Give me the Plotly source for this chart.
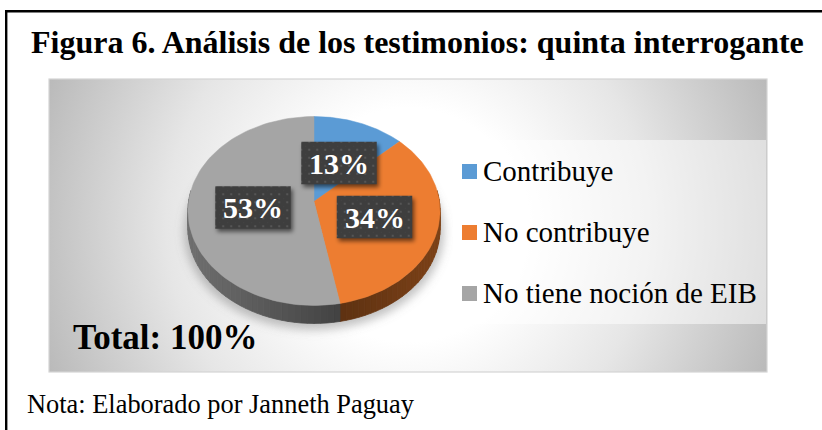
import base64
import numpy as np
import plotly.graph_objects as go

W, H = 822, 430
categories = ["Contribuye", "No contribuye", "No tiene noción de EIB"]
values = [13, 34, 53]
colors = ["#5b9bd5", "#ed7d31", "#a5a5a5"]
title_text = "Figura 6. Análisis de los testimonios: quinta interrogante"
note_text = "Nota: Elaborado por Janneth Paguay"
label_centers = [(339, 163), (374.5, 217), (253, 207.5)]
legend_rows = [171.5, 232.5, 293.5]

# tilted-disc projection of a unit circle
APEX_X, APEX_Y = 314, 201.5
PERSP, KY, KX = 0.1005, 93.5, 125.4
DEPTH = 18


def project(theta):
    """theta: clockwise from 12 o'clock, radians."""
    x, y = np.sin(theta), np.cos(theta)
    d = 1 + PERSP * y
    return APEX_X + KX * x / d, APEX_Y - KY * y / d


def svg_uri(body, w, h):
    svg = f'<svg xmlns="http://www.w3.org/2000/svg" width="{w}" height="{h}" viewBox="0 0 {w} {h}">{body}</svg>'
    return "data:image/svg+xml;base64," + base64.b64encode(svg.encode()).decode()


background = (
    '<defs><radialGradient id="g" gradientUnits="userSpaceOnUse" cx="408" cy="225" r="390">'
    '<stop offset="0.3" stop-color="#ffffff"/><stop offset="0.62" stop-color="#e6e6e6"/>'
    '<stop offset="1" stop-color="#b9b9b9"/></radialGradient>'
    '<filter id="b" x="-20%" y="-20%" width="140%" height="140%"><feGaussianBlur stdDeviation="5"/></filter></defs>'
    '<rect x="49" y="79" width="718" height="293" fill="url(#g)" stroke="#d4d4d4" stroke-width="1.2"/>'
    '<ellipse cx="314" cy="232" rx="130" ry="98" fill="#777777" fill-opacity="0.45" filter="url(#b)"/>'
    '<rect x="453" y="140" width="313" height="184" fill="#ffffff" fill-opacity="0.5"/>'
)


def label_box(w, h):
    pad = 12
    body = (
        '<defs><filter id="s" x="-30%" y="-30%" width="160%" height="160%"><feGaussianBlur stdDeviation="2.2"/></filter>'
        '<pattern id="p" width="8" height="8" patternUnits="userSpaceOnUse">'
        '<rect width="8" height="8" fill="#3e3e3e"/><circle cx="4" cy="4" r="1.1" fill="#5a5a5a"/>'
        '<circle cx="0" cy="0" r="0.8" fill="#4d4d4d"/></pattern></defs>'
        f'<rect x="{pad + 2}" y="{pad + 3}" width="{w}" height="{h}" fill="#000" fill-opacity="0.55" filter="url(#s)"/>'
        f'<rect x="{pad}" y="{pad}" width="{w}" height="{h}" fill="url(#p)"/>'
    )
    return svg_uri(body, w + 2 * pad, h + 2 * pad), pad


fig = go.Figure()

# slice boundaries from the values
shares = np.array(values) / sum(values)
edges = np.concatenate([[0], np.cumsum(shares)]) * 2 * np.pi

# side wall: one quad per step so its shade can change along the rim
wall_start, wall_end = np.pi / 2 - 0.12, 3 * np.pi / 2 + 0.12
steps = np.linspace(wall_start, wall_end, 73)
for a, b in zip(steps[:-1], steps[1:]):
    mid = (a + b) / 2
    px, py = project(np.array([a, b]))
    xs = [px[0], px[1], px[1], px[0], px[0]]
    ys = [py[0], py[1], py[1] + DEPTH, py[0] + DEPTH, py[0]]
    xm = float(project(mid)[0])
    if mid < edges[2]:
        t = np.clip((xm - 343) / 97, 0, 1)
        rgb = (int(95 + 30 * t), int(50 + 16 * t), int(18 + 6 * t))
    else:
        t = np.clip((343 - xm) / 155, 0, 1)
        v = int(66 + 46 * t)
        rgb = (v, v, v)
    col = f"rgb{rgb}"
    fig.add_trace(go.Scatter(x=xs, y=ys, mode="lines", fill="toself", fillcolor=col,
                             line=dict(color=col, width=0.8), showlegend=False, hoverinfo="skip"))

# top face
for i, cat in enumerate(categories):
    th = np.linspace(edges[i], edges[i + 1], 90)
    px, py = project(th)
    fig.add_trace(go.Scatter(x=np.r_[APEX_X, px, APEX_X], y=np.r_[APEX_Y, py, APEX_Y],
                             mode="lines", fill="toself", fillcolor=colors[i],
                             line=dict(color=colors[i], width=0.5), name=cat, showlegend=False,
                             hoverinfo="skip"))

# legend keys
fig.add_trace(go.Scatter(x=[469.5] * 3, y=legend_rows, mode="markers",
                         marker=dict(symbol="square", size=15, color=colors, line=dict(width=0)),
                         showlegend=False, hoverinfo="skip"))

images = [dict(source=svg_uri(background, W, H), xref="x", yref="y", x=0, y=0, sizex=W, sizey=H,
               xanchor="left", yanchor="top", sizing="stretch", layer="below")]
ann = []
BOX_W, BOX_H = 75.5, 42.5
for (cx, cy), v in zip(label_centers, values):
    src, pad = label_box(BOX_W, BOX_H)
    images.append(dict(source=src, xref="x", yref="y", x=cx - BOX_W / 2 - pad, y=cy - BOX_H / 2 - pad,
                       sizex=BOX_W + 2 * pad, sizey=BOX_H + 2 * pad, xanchor="left", yanchor="top",
                       sizing="stretch", layer="above"))
    ann.append(dict(x=cx, y=cy, text=f"<b>{v}%</b>", showarrow=False, xanchor="center", yanchor="middle",
                    font=dict(family="Liberation Serif", size=30, color="#ffffff")))

for name, y in zip(categories, legend_rows):
    ann.append(dict(x=481, y=y - 1, text=name, showarrow=False, xanchor="left", yanchor="middle",
                    font=dict(family="Liberation Serif", size=29, color="#000000")))

ann.append(dict(x=417.5, y=42, text=f"<b>{title_text}</b>", showarrow=False, xanchor="center", yanchor="middle",
                font=dict(family="Liberation Serif", size=32, color="#000000")))
ann.append(dict(x=70.5, y=337, text=f"<b>Total: {sum(values)}%</b>", showarrow=False, xanchor="left", yanchor="middle",
                font=dict(family="Liberation Serif", size=35, color="#000000")))
ann.append(dict(x=24.5, y=404, text=note_text, showarrow=False, xanchor="left", yanchor="middle",
                font=dict(family="Liberation Serif", size=26.4, color="#000000")))

shapes = [
    dict(type="line", xref="x", yref="y", x0=6.2, x1=6.2, y0=10, y1=430, line=dict(color="#000000", width=2.4)),
    dict(type="line", xref="x", yref="y", x0=5, x1=822, y0=11.2, y1=11.2, line=dict(color="#000000", width=2.4)),
]

fig.update_layout(
    width=W, height=H, margin=dict(l=0, r=0, t=0, b=0, pad=0),
    paper_bgcolor="#ffffff", plot_bgcolor="rgba(0,0,0,0)",
    xaxis=dict(range=[0, W], visible=False, fixedrange=True),
    yaxis=dict(range=[H, 0], visible=False, fixedrange=True),
    images=images, annotations=ann, shapes=shapes, showlegend=False,
)
fig.write_html("out.html", config={"displayModeBar": False},
               post_script="document.body.style.margin='0';document.documentElement.style.overflow='hidden';")
